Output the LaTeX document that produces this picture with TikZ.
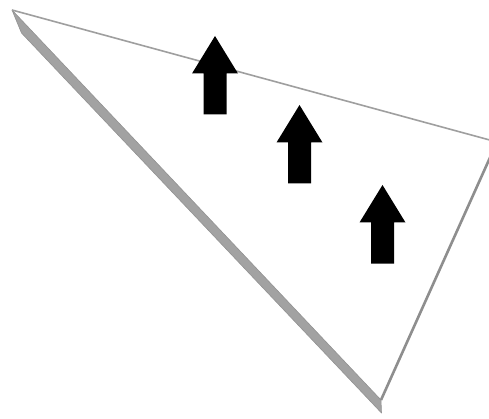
\documentclass[tikz,border=0pt]{standalone}
\definecolor{bandgray}{HTML}{A2A2A2}
\definecolor{edgegray}{HTML}{8E8E8E}
\begin{document}
\begin{tikzpicture}[x=1pt,y=-1pt,
  topedge/.style={draw=edgegray!85, line width=1.6pt},
  sideedge/.style={draw=edgegray, line width=2.6pt},
  band/.style={fill=bandgray, draw=bandgray!90!black, line width=0.6pt, line join=round},
  pics/uparr/.style={code={
    \fill[black] (0,0) -- (23,37.5) -- (11.5,37.5) -- (11.5,78.5)
      -- (-11.5,78.5) -- (-11.5,37.5) -- (-23,37.5) -- cycle;}}]
\useasboundingbox (0,0) rectangle (489,419);
\clip (0,0) rectangle (489,419);
\fill[white] (0,0) rectangle (489,419);
\coordinate (A) at (12,10);
\coordinate (B) at (497,142);
\coordinate (C) at (381,400);
\coordinate (Cb) at (381.5,413);
\coordinate (Ab) at (21.5,33);
% side face
\path[band] (A) -- (C) -- (Cb) -- (Ab) -- cycle;
% top and right edges
\draw[topedge] (A) -- (B);
\draw[sideedge] (B) -- (C);
% arrows
\pic at (215,36) {uparr};
\pic at (299.5,105) {uparr};
\pic at (382.5,185) {uparr};
\end{tikzpicture}
\end{document}
